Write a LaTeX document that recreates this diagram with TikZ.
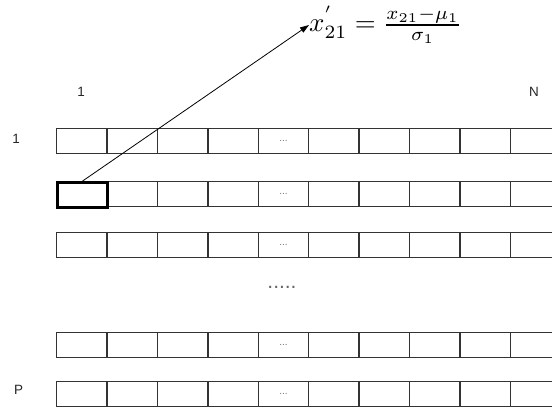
\documentclass[tikz,border=0pt]{standalone}
\usepackage{fontspec}
\usepackage{graphicx}
\setsansfont{Liberation Sans}
\usetikzlibrary{arrows.meta}
\begin{document}
\begin{tikzpicture}[x=1bp,y=-1bp,
  cell/.style={draw=black!80,line width=1.3bp,minimum width=50.4bp,minimum height=25bp,inner sep=0pt,anchor=north west,font=\sffamily\fontsize{10}{12}\selectfont,text=black!55},
  hl/.style={draw=black,line width=2.8bp},
  lab/.style={font=\sffamily\fontsize{13.5}{15}\selectfont,inner sep=0pt,text=black!85}]
\useasboundingbox (0,0) rectangle (552,406);
\foreach \r/\y in {1/128,2/181,3/232,4/332,5/381}{
  \foreach \c in {1,...,10}{
    \pgfmathsetmacro\xx{56+(\c-1)*50.4}
    \ifnum\c=5
      \node[cell] (c-\r-\c) at (\xx,\y) {...};
    \else
      \node[cell] (c-\r-\c) at (\xx,\y) {};
    \fi
  }
}
\node[cell,hl] (h) at (56,181) {};
\node[lab] (cl1) at (81,92) {1};
\node[lab] (clN) at (534,92) {N};
\node[lab] (rl1) at (16,139) {1};
\node[lab] (rlP) at (18.5,390) {P};
\node[inner sep=0pt,font=\sffamily\fontsize{21}{25}\selectfont,text=black!60] (dots) at (282,287) {.....};
\node[inner sep=0pt,anchor=west] (f) at (309,25) {\scalebox{2.7}{$x^{'}_{21} = \frac{x_{21}-\mu_1}{\sigma_1}$}};
\draw[line width=0.8bp,-{Triangle[length=9bp,width=6bp]}] (h.north) -- (f.west);
\end{tikzpicture}
\end{document}
